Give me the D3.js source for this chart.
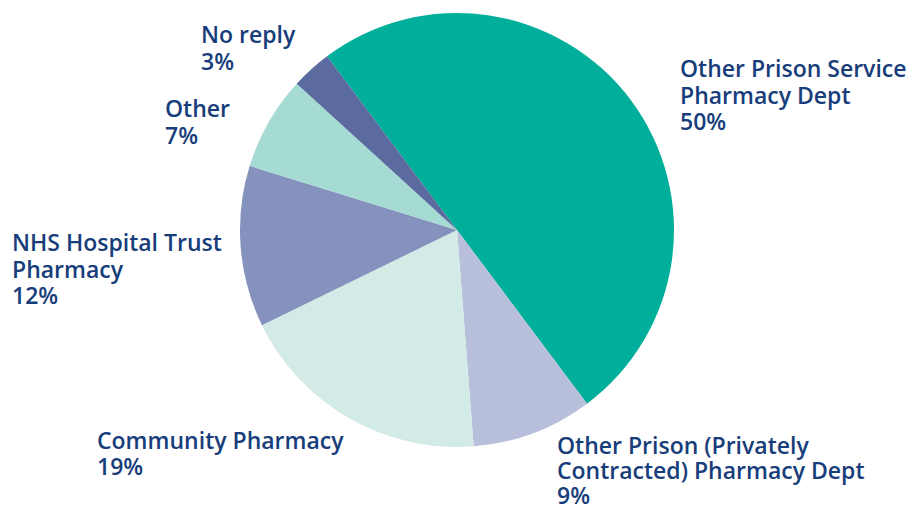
<!DOCTYPE html>
<html><head><meta charset="utf-8">
<script src="https://cdn.jsdelivr.net/npm/d3@7"></script>
<style>
html,body{margin:0;padding:0;background:#fff;}
svg{display:block;}
text{font-family:"Open Sans","Noto Sans",sans-serif;font-weight:600;fill:#173D7A;}
</style></head>
<body>
<svg id="chart" width="912" height="511"></svg>
<script>
const categories = ["Other Prison Service Pharmacy Dept","Other Prison (Privately Contracted) Pharmacy Dept","Community Pharmacy","NHS Hospital Trust Pharmacy","Other","No reply"];
const values = [50, 9, 19, 12, 7, 3];
const labelLines = [
  ["Other Prison Service","Pharmacy Dept"],
  ["Other Prison (Privately","Contracted) Pharmacy Dept"],
  ["Community Pharmacy"],
  ["NHS Hospital Trust","Pharmacy"],
  ["Other"],
  ["No reply"]
];
const colors = ["#00AF9B","#B8BFDB","#D3EBE6","#8592BD","#A6DBD3","#5B6B9F"];

// layout (label anchor points and line heights, in px)
const labelPos = [[680,77],[557,454],[97,449],[12,251],[165,117],[201,43]];
const lineHs = [26.5, 25, 26, 26.5, 26.5, 26.5];

const svg = d3.select("#chart");
const cx = 457, cy = 230, r = 217;
const start = -36.8 * Math.PI/180;
const pie = d3.pie().sort(null).value(d=>d).startAngle(start).endAngle(start + 2*Math.PI);
const arc = d3.arc().innerRadius(0).outerRadius(r);
const g = svg.append("g").attr("transform",`translate(${cx},${cy})`);
g.selectAll("path").data(pie(values)).join("path")
  .attr("d",arc).attr("fill",(d,i)=>colors[i]);

const lg = svg.append("g");
categories.forEach((c,i)=>{
  const lines = labelLines[i].concat([values[i]+"%"]);
  lines.forEach((l,j)=>{
    lg.append("text")
      .attr("x",labelPos[i][0])
      .attr("y",labelPos[i][1] + j*lineHs[i])
      .style("font-size","23px")
      .text(l);
  });
});
</script>
</body></html>
